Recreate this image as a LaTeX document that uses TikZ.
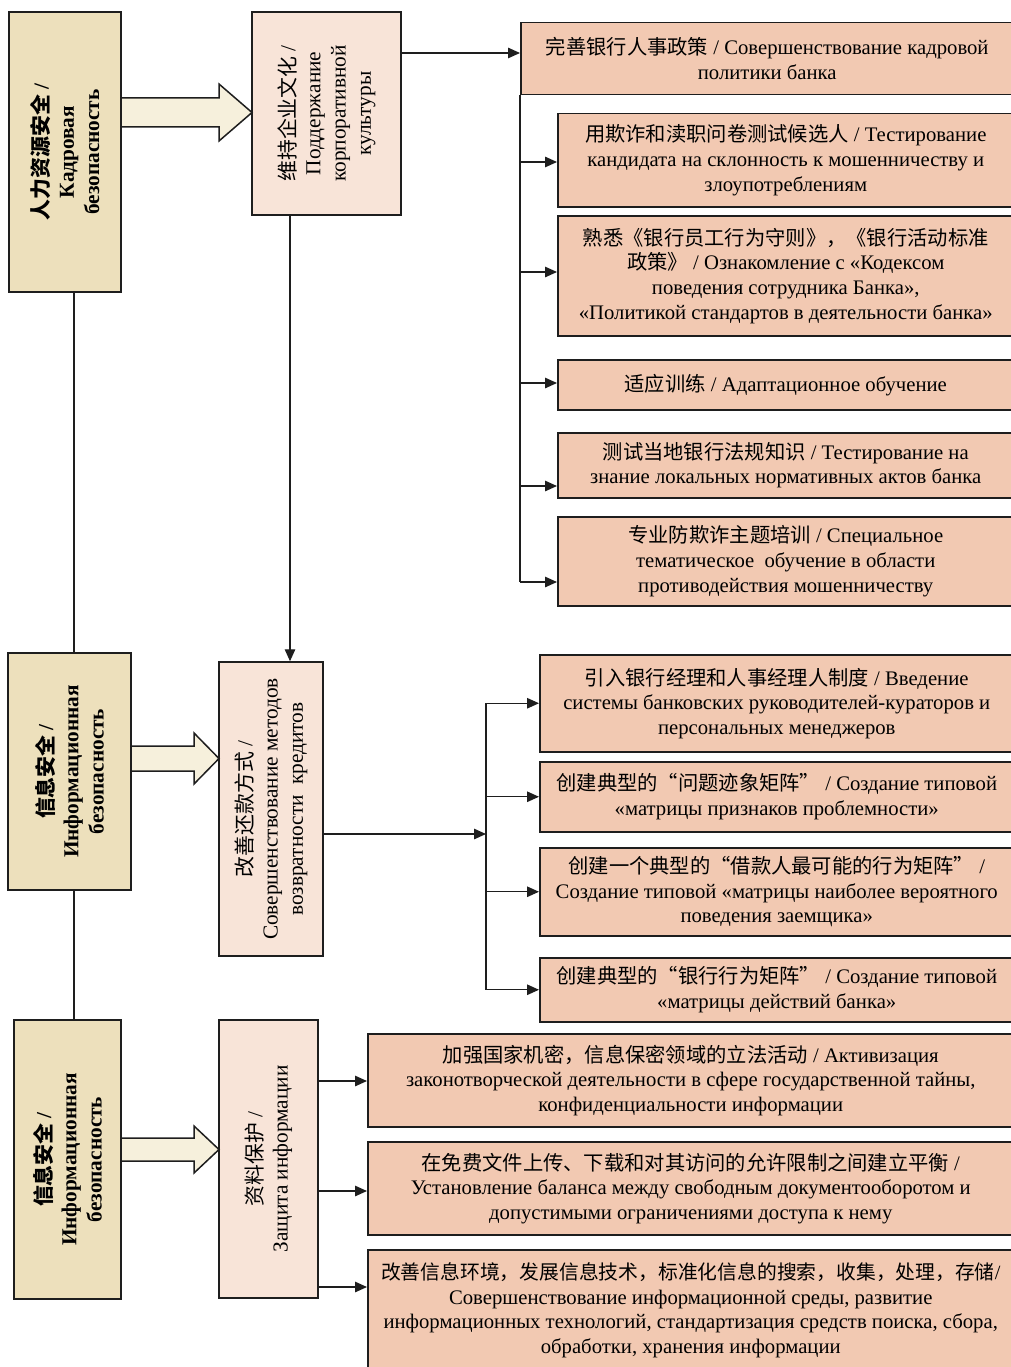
\documentclass[tikz,border=0pt]{standalone}
\usepackage{fontspec}
\setmainfont{Liberation Serif}
\newfontfamily\cjkfont{Noto Sans CJK SC}[Scale=0.98]
\usetikzlibrary{arrows.meta,calc}
\newcommand\zh[1]{{\cjkfont #1}}
\definecolor{lfill}{HTML}{EDE0BC}
\definecolor{mfill}{HTML}{F8E4D8}
\definecolor{rfill}{HTML}{F2C9B2}
\definecolor{afill}{HTML}{F6F0DC}
\definecolor{edgec}{HTML}{1E1E1E}
\begin{document}
\begin{tikzpicture}[x=1pt,y=-1pt,
  every node/.style={font=\fontsize{20.7}{24.6}\selectfont, inner sep=0pt, align=center},
  box/.style={draw=edgec, line width=1.5pt},
  lbox/.style={box, fill=lfill, rotate=90, font=\fontsize{21.3}{25.2}\selectfont\bfseries},
  mbox/.style={box, fill=mfill, rotate=90, font=\fontsize{21.3}{25.2}\selectfont},
  rbox/.style={box, fill=rfill, anchor=north west},
  conn/.style={draw=edgec, line width=1.3pt},
  arr/.style={conn, -{Triangle[length=12pt,width=10.5pt]}},
  barrow/.style={draw=edgec, line width=1.5pt, fill=afill, line join=miter}]
\useasboundingbox (0,0) rectangle (1011,1367);

% left column
\node[lbox, minimum width=280, minimum height=112] (l1) at (65,152)
  {\zh{人力资源安全} /\\Кадровая\\безопасность};
\node[lbox, minimum width=237, minimum height=123] (l2) at (69.5,771.5)
  {\zh{信息安全} /\\Информационная\\безопасность};
\node[lbox, minimum width=279, minimum height=107] (l3) at (67.5,1159.5)
  {\zh{信息安全} /\\Информационная\\безопасность};

% middle column
\node[mbox, minimum width=203, minimum height=149] (m1) at (326.5,113.5)
  {\zh{维持企业文化} /\\Поддержание\\корпоративной\\культуры};
\node[mbox, minimum width=294, minimum height=104] (m2) at (271,809)
  {\zh{改善还款方式} /\\Совершенствование методов\\возвратности\ \ кредитов};
\node[mbox, minimum width=278, minimum height=99] (m3) at (268.5,1159)
  {\zh{资料保护} /\\Защита информации};

% right column, group 1
\node[rbox, minimum width=493, minimum height=72] (r1) at (520,22)
  {\zh{完善银行人事政策} / Совершенствование кадровой\\политики банка};
\node[rbox, minimum width=456, minimum height=93] (r2) at (557,113)
  {\zh{用欺诈和渎职问卷测试候选人} / Тестирование\\кандидата на склонность к мошенничеству и\\злоупотреблениям};
\node[rbox, minimum width=456, minimum height=120] (r3) at (557,215)
  {\zh{熟悉《银行员工行为守则》，《银行活动标准}\\\zh{政策》} / Ознакомление с «Кодексом\\поведения сотрудника Банка»,\\«Политикой стандартов в деятельности банка»};
\node[rbox, minimum width=456, minimum height=50] (r4) at (557,359)
  {\zh{适应训练} / Адаптационное обучение};
\node[rbox, minimum width=456, minimum height=65] (r5) at (557,432)
  {\zh{测试当地银行法规知识} / Тестирование на\\знание локальных нормативных актов банка};
\node[rbox, minimum width=456, minimum height=89] (r6) at (557,516)
  {\zh{专业防欺诈主题培训} / Специальное\\тематическое\ \ обучение в области\\противодействия мошенничеству};

% right column, group 2
\node[rbox, minimum width=474, minimum height=97] (r7) at (539,654)
  {\zh{引入银行经理和人事经理人制度} / Введение\\системы банковских руководителей-кураторов и\\персональных менеджеров};
\node[rbox, minimum width=474, minimum height=70] (r8) at (539,761)
  {\zh{创建典型的“问题迹象矩阵”} / Создание типовой\\«матрицы признаков проблемности»};
\node[rbox, minimum width=474, minimum height=88] (r9) at (539,847)
  {\zh{创建一个典型的“借款人最可能的行为矩阵”} /\\Создание типовой «матрицы наиболее вероятного\\поведения заемщика»};
\node[rbox, minimum width=474, minimum height=64] (r10) at (539,957)
  {\zh{创建典型的“银行行为矩阵”} / Создание типовой\\«матрицы действий банка»};

% right column, group 3
\node[rbox, minimum width=646, minimum height=93] (r11) at (367,1033)
  {\zh{加强国家机密，信息保密领域的立法活动} / Активизация\\законотворческой деятельности в сфере государственной тайны,\\конфиденциальности информации};
\node[rbox, minimum width=646, minimum height=93] (r12) at (367,1141)
  {\zh{在免费文件上传、下载和对其访问的允许限制之间建立平衡} /\\Установление баланса между свободным документооборотом и\\допустимыми ограничениями доступа к нему};
\node[rbox, minimum width=646, minimum height=121] (r13) at (367,1249)
  {{\fontsize{20.2}{24.6}\selectfont\zh{改善信息环境，发展信息技术，标准化信息的搜索，收集，处理，存储}/}\\Совершенствование информационной среды, развитие\\информационных технологий, стандартизация средств поиска, сбора,\\обработки, хранения информации};

% block arrows
\draw[barrow] (121,98) -- (219,98) -- (219,84) -- (252,112.5) -- (219,141) -- (219,127) -- (121,127) -- cycle;
\draw[barrow] (131,746) -- (194,746) -- (194,733) -- (219,758.5) -- (194,784) -- (194,771) -- (131,771) -- cycle;
\draw[barrow] (121,1138) -- (194,1138) -- (194,1126) -- (219,1149.5) -- (194,1173) -- (194,1161) -- (121,1161) -- cycle;

% left vertical connectors
\coordinate (vx) at (74,0);
\draw[conn] (vx |- l1.west) -- (vx |- l2.east);
\draw[conn] (vx |- l2.west) -- (vx |- l3.east);

% m1 -> m2
\coordinate (dx) at (290,0);
\draw[arr] (dx |- m1.west) -- (dx |- m2.east);

% m1 -> group 1
\draw[arr] (m1.south |- 0,53) -- (r1.west |- 0,53);
\draw[conn] (r1.south west) -- (r1.south west |- 0,582);
\draw[arr] (r1.south west |- 0,162) -- (r2.west |- 0,162);
\draw[arr] (r1.south west |- 0,272) -- (r3.west |- 0,272);
\draw[arr] (r1.south west |- 0,383) -- (r4.west |- 0,383);
\draw[arr] (r1.south west |- 0,486) -- (r5.west |- 0,486);
\draw[arr] (r1.south west |- 0,582) -- (r6.west |- 0,582);

% m2 -> group 2
\coordinate (t2) at (486,0);
\draw[arr] (m2.south |- 0,834) -- (t2 |- 0,834);
\draw[conn] (t2 |- r7.west) -- (t2 |- r10.west);
\draw[arr] (t2 |- r7.west) -- (r7.west);
\draw[arr] (t2 |- r8.west) -- (r8.west);
\draw[arr] (t2 |- r9.west) -- (r9.west);
\draw[arr] (t2 |- r10.west) -- (r10.west);

% m3 -> group 3
\draw[arr] (m3.south |- 0,1081) -- (r11.west |- 0,1081);
\draw[arr] (m3.south |- 0,1191) -- (r12.west |- 0,1191);
\draw[arr] (m3.south |- 0,1287) -- (r13.west |- 0,1287);
\end{tikzpicture}
\end{document}
